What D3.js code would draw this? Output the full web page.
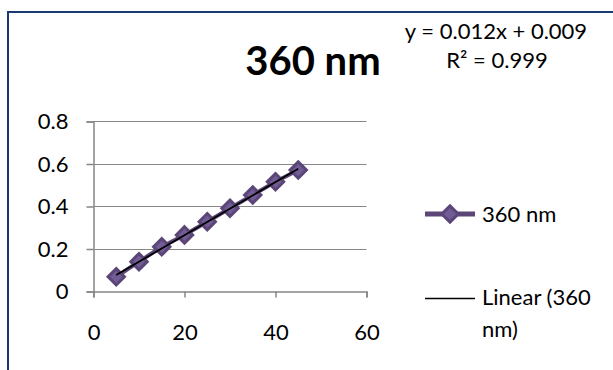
<!DOCTYPE html>
<html>
<head>
<meta charset="utf-8">
<script src="https://cdn.jsdelivr.net/npm/d3@7"></script>
<style>
    body { margin: 0; background: #fff; }
    svg { display: block; }
    text { font-family: Lato, "Open Sans", sans-serif; fill: #000; }
</style>
</head>
<body>
<svg id="chart" width="613" height="370"></svg>
<script>
// data
const concentrations = [5, 10, 15, 20, 25, 30, 35, 40, 45];
const absorbance = [0.067, 0.138, 0.208, 0.264, 0.326, 0.389, 0.452, 0.514, 0.569];
const xTicks = [0, 20, 40, 60];
const yTicks = [0, 0.2, 0.4, 0.6, 0.8];
const seriesName = '360 nm';
const trendLabel = ['Linear (360', 'nm)'];
const equationText = 'y = 0.012x + 0.009';
const r2Text = 'R² = 0.999';

const svg = d3.select('#chart');
const purple = '#5b4677';
const markerFill = '#725c96';
const gridColor = '#878787';
const fontSize = '22px';

// frame
svg.append('rect')
    .attr('x', 8).attr('y', 12)
    .attr('width', 640).attr('height', 400)
    .attr('fill', 'none')
    .attr('stroke', '#1c3870')
    .attr('stroke-width', 2);

const x = d3.scaleLinear().domain([0, 60]).range([93.5, 366.5]);
const y = d3.scaleLinear().domain([0, 0.8]).range([291, 121]);

// gridlines
svg.append('g')
    .selectAll('line')
    .data(yTicks.filter(d => d > 0))
    .enter()
    .append('line')
    .attr('x1', x(0)).attr('x2', x(60))
    .attr('y1', d => Math.round(y(d)) + 0.5)
    .attr('y2', d => Math.round(y(d)) + 0.5)
    .attr('stroke', gridColor)
    .attr('stroke-width', 1.2);

// axes
const yAxis = svg.append('g')
    .attr('transform', `translate(${x(0)},0.5)`)
    .call(d3.axisLeft(y).tickValues(yTicks).tickFormat(d => d === 0 ? '0' : d3.format('.1f')(d)).tickSize(7).tickPadding(18));
const xAxis = svg.append('g')
    .attr('transform', `translate(0,${y(0) + 0.5})`)
    .call(d3.axisBottom(x).tickValues(xTicks).tickSize(6).tickPadding(27));

[yAxis, xAxis].forEach(g => {
    g.select('.domain').attr('stroke', gridColor).attr('stroke-width', 1.5);
    g.selectAll('.tick line').attr('stroke', gridColor).attr('stroke-width', 1.5);
    g.selectAll('.tick text')
        .style('font-family', 'Lato, "Open Sans", sans-serif')
        .style('font-size', fontSize)
        .attr('fill', '#000');
});

// series line
const line = d3.line()
    .x((d, i) => x(concentrations[i]))
    .y(d => y(d));
svg.append('path')
    .datum(absorbance)
    .attr('d', line)
    .attr('fill', 'none')
    .attr('stroke', purple)
    .attr('stroke-width', 4);

// diamond markers
const diamond = d3.symbol().type(d3.symbolDiamond2).size(170);
svg.append('g')
    .selectAll('path')
    .data(absorbance)
    .enter()
    .append('path')
    .attr('d', diamond)
    .attr('transform', (d, i) => `translate(${x(concentrations[i])},${y(d)})`)
    .attr('fill', markerFill)
    .attr('stroke', purple)
    .attr('stroke-width', 3);

// least squares trendline
const mx = d3.mean(concentrations), my = d3.mean(absorbance);
const slope = d3.sum(concentrations, (c, i) => (c - mx) * (absorbance[i] - my)) /
    d3.sum(concentrations, c => (c - mx) * (c - mx));
const intercept = my - slope * mx;
const xr = d3.extent(concentrations);
svg.append('line')
    .attr('x1', x(xr[0])).attr('y1', y(slope * xr[0] + intercept))
    .attr('x2', x(xr[1])).attr('y2', y(slope * xr[1] + intercept))
    .attr('stroke', '#000')
    .attr('stroke-width', 1.8);

// title and equation
svg.append('text')
    .attr('x', 313).attr('y', 75)
    .attr('text-anchor', 'middle')
    .style('font-size', '40px')
    .style('font-weight', 'bold')
    .text(seriesName);
svg.append('text')
    .attr('x', 496).attr('y', 39)
    .attr('text-anchor', 'middle')
    .style('font-size', fontSize)
    .text(equationText);
svg.append('text')
    .attr('x', 497).attr('y', 68)
    .attr('text-anchor', 'middle')
    .style('font-size', fontSize)
    .text(r2Text);

// legend
const lg = svg.append('g');
lg.append('line')
    .attr('x1', 425).attr('x2', 475).attr('y1', 214).attr('y2', 214)
    .attr('stroke', purple).attr('stroke-width', 5);
lg.append('path')
    .attr('d', diamond)
    .attr('transform', 'translate(450,214)')
    .attr('fill', markerFill)
    .attr('stroke', purple)
    .attr('stroke-width', 3);
lg.append('text')
    .attr('x', 482).attr('y', 222)
    .style('font-size', fontSize)
    .text(seriesName);
lg.append('line')
    .attr('x1', 425).attr('x2', 475).attr('y1', 298.5).attr('y2', 298.5)
    .attr('stroke', '#000').attr('stroke-width', 1.5);
lg.selectAll('.tl')
    .data(trendLabel)
    .enter()
    .append('text')
    .attr('class', 'tl')
    .attr('x', 482)
    .attr('y', (d, i) => 305 + i * 32)
    .style('font-size', fontSize)
    .text(d => d);
</script>
</body>
</html>
